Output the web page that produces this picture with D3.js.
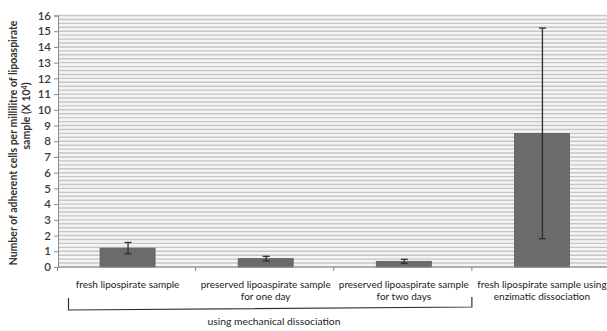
<!DOCTYPE html>
<html><head><meta charset="utf-8">
<script src="https://cdn.jsdelivr.net/npm/d3@7"></script>
<style>body{margin:0;background:#fff}svg{display:block}</style>
</head><body>
<script>
const categories = [
  ["fresh lipospirate sample"],
  ["preserved lipoaspirate sample", "for one day"],
  ["preserved lipoaspirate sample", "for two days"],
  ["fresh lipospirate sample using", "enzimatic dissociation"]
];
const values = [1.2, 0.53, 0.36, 8.5];
const errors = [0.36, 0.15, 0.13, 6.7];
const yTicks = d3.range(0, 17, 1);
const stripeValues = d3.range(0, 16.01, 0.25);
const groupLabel = "using mechanical dissociation";

const W = 607, H = 331;
const svg = d3.select("body").append("svg").attr("width", W).attr("height", H);
const x = d3.scaleBand().domain(d3.range(categories.length)).range([57.5, 610]).paddingInner(0).paddingOuter(0);
const y = d3.scaleLinear().domain([0, 16]).range([267, 15.5]);
const font = "Lato, 'Open Sans', sans-serif";

// plot background
svg.append("rect").attr("x", 58).attr("y", y(16)).attr("width", 560).attr("height", y(0) - y(16)).attr("fill", "#f4f4f4");
svg.append("g").selectAll("line").data(stripeValues).join("line")
  .attr("x1", 58).attr("x2", 612).attr("y1", d => y(d)).attr("y2", d => y(d))
  .attr("stroke", "#c6c6c6").attr("stroke-width", 1.4);

// bars
const bw = 55;
svg.append("g").selectAll("rect").data(values).join("rect")
  .attr("x", (d, i) => x(i) + x.bandwidth() / 2 - bw / 2 + 1)
  .attr("width", bw)
  .attr("y", d => y(d)).attr("height", d => y(0) - y(d))
  .attr("fill", "#6b6b6b").attr("stroke", "#5a5a5a").attr("stroke-width", 0.8);

// error bars
const eg = svg.append("g").attr("stroke", "#2e2e2e").attr("stroke-width", 1.3);
values.forEach((v, i) => {
  const cx = x(i) + x.bandwidth() / 2 + 1.5;
  const lo = v - errors[i], hi = v + errors[i];
  eg.append("line").attr("x1", cx).attr("x2", cx).attr("y1", y(lo)).attr("y2", y(hi));
  eg.append("line").attr("x1", cx - 3.5).attr("x2", cx + 3.5).attr("y1", y(lo)).attr("y2", y(lo));
  eg.append("line").attr("x1", cx - 3.5).attr("x2", cx + 3.5).attr("y1", y(hi)).attr("y2", y(hi));
});

// y axis
const ya = svg.append("g").attr("transform", "translate(58,0)")
  .call(d3.axisLeft(y).tickValues(yTicks).tickSize(4).tickPadding(3).tickFormat(d3.format("d")));
ya.select(".domain").attr("stroke", "#8a8a8a");
ya.selectAll(".tick line").attr("stroke", "#8a8a8a");
ya.selectAll("text").attr("font-family", font).attr("font-size", 11.5).attr("font-weight", 600).attr("fill", "#3a3a3a");

// x axis
const xa = svg.append("g").attr("transform", `translate(0,${y(0)})`);
xa.append("line").attr("x1", 58).attr("x2", 612).attr("y1", 0).attr("y2", 0).attr("stroke", "#8a8a8a");
xa.selectAll(".ct").data(d3.range(categories.length)).join("line")
  .attr("x1", i => x(i)).attr("x2", i => x(i)).attr("y1", 0).attr("y2", 4).attr("stroke", "#8a8a8a");

// category labels
categories.forEach((lines, i) => {
  const cx = x(i) + x.bandwidth() / 2 + 1;
  const t = svg.append("text").attr("x", cx).attr("y", 288)
    .attr("text-anchor", "middle").attr("font-family", font)
    .attr("font-size", 10).attr("fill", "#222");
  lines.forEach((l, k) => t.append("tspan").attr("x", cx).attr("dy", k ? 12 : 0).text(l));
});

// bracket
svg.append("path")
  .attr("d", `M${x(0) + 11},298 L${x(0) + 11},310 L${x(3)},307 L${x(3)},297`)
  .attr("fill", "none").attr("stroke", "#333").attr("stroke-width", 1.2);
svg.append("text").attr("x", 274).attr("y", 325).attr("text-anchor", "middle")
  .attr("font-family", font).attr("font-size", 10.3).attr("fill", "#222").text(groupLabel);

// y title
const yt = svg.append("g").attr("font-family", font).attr("font-weight", "bold")
  .attr("font-size", 10.5).attr("fill", "#333").attr("text-anchor", "middle");
yt.append("text").attr("transform", "translate(17,143) rotate(-90)").text("Number of adherent cells per millilitre  of lipoaspirate");
const t2 = yt.append("text").attr("transform", "translate(30,116) rotate(-90)");
t2.append("tspan").text("sample (X 10");
t2.append("tspan").attr("font-size", 7).attr("dy", -3.5).text("4");
t2.append("tspan").attr("dy", 3.5).text(")");
</script>
</body></html>
